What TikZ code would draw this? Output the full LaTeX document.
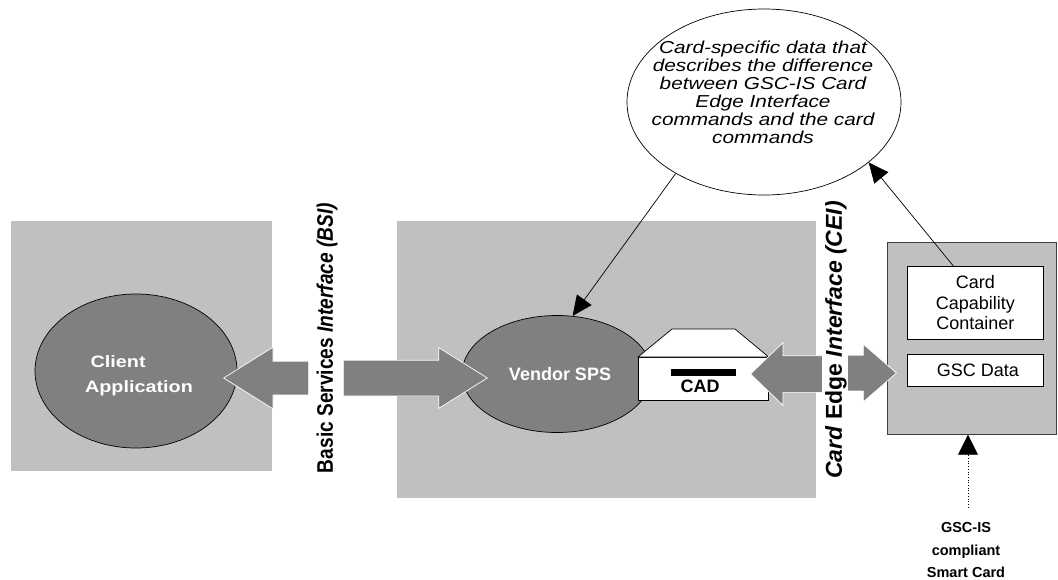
\documentclass[tikz,border=0pt]{standalone}
\usepackage{fontspec}
\setmainfont{Liberation Sans}
\newfontfamily\widefont[FakeStretch=1.2]{Liberation Sans}
\newfontfamily\narrowfont[FakeStretch=0.85]{Liberation Sans}
\usepackage{tikz}
\usetikzlibrary{arrows.meta,shapes.geometric,shapes.arrows}
\definecolor{panelgray}{HTML}{C0C0C0}
\definecolor{blobgray}{HTML}{808080}
\definecolor{rimgray}{HTML}{404040}

\begin{document}
\begin{tikzpicture}[x=1pt,y=-1pt]

	\tikzstyle panel=[fill=panelgray, inner sep=0pt, anchor=north west];
	\tikzstyle blob=[ellipse, fill=blobgray, draw=black, line width=0.7pt, inner sep=0pt];
	\tikzstyle blob text=[text=white, font=\bfseries\fontsize{18}{21}\selectfont];
	\tikzstyle block arrow=[single arrow, fill=blobgray, draw=white, line width=0.7pt, inner sep=0pt, anchor=tip];
	\tikzstyle info box=[draw=black, fill=white, line width=0.7pt, inner sep=0pt, anchor=north west, font=\fontsize{18}{20.5}\selectfont, align=center];
	\tikzstyle link lines=[line width=0.7pt, -{Triangle[length=20pt,width=18pt]}];

	\useasboundingbox (0,0) rectangle (1058,579);

	% panels
	\node[panel, minimum width=261pt, minimum height=250pt] (client panel) at (11,221) {};
	\node[panel, minimum width=419pt, minimum height=277pt] (vendor panel) at (397,221) {};
	\node[panel, draw=rimgray, line width=0.7pt, minimum width=169pt, minimum height=192pt] (card) at (887,242) {};

	% client and vendor
	\node[blob, minimum width=202pt, minimum height=154pt] (client) at (136,371) {};
	\node[blob text, align=left, font=\widefont\bfseries\fontsize{16.5}{25}\selectfont] (client text) at (139,376) {\ Client\\Application};
	\node[blob, minimum width=190pt, minimum height=117pt] (vendor) at (557,374) {};
	\node[blob text] (vendor text) at (560,374) {Vendor SPS};

	% card reader
	\node[info box, minimum width=130pt, minimum height=43pt] (cad) at (638,357) {};
	\draw[fill=white, line width=0.7pt] (cad.north west) -- (672,329) -- (735,329) -- (cad.north east) -- cycle;
	\fill (671,369) rectangle (736,376);
	\node[font=\bfseries\fontsize{18}{21}\selectfont] (cad label) at (700,386) {CAD};

	% interface arrows
	\node[block arrow, shape border rotate=180, minimum height=85pt, inner ysep=16.5pt, single arrow head extend=14pt, single arrow tip angle=64] (bsi left) at (223,378) {};
	\node[block arrow, minimum height=144pt, inner ysep=17.5pt, single arrow head extend=12.5pt, single arrow tip angle=64] (bsi right) at (488,378) {};
	\node[block arrow, shape border rotate=180, minimum height=72pt, inner ysep=18pt, single arrow head extend=13pt, single arrow tip angle=88] (cei left) at (750,374) {};
	\node[block arrow, minimum height=49pt, inner ysep=17.5pt, single arrow head extend=11pt, single arrow tip angle=82] (cei right) at (897,373) {};

	\node[rotate=90, font=\narrowfont\bfseries\fontsize{22.5}{26}\selectfont] (bsi) at (327,338) {Basic Services \textit{Interface (BSI)}};
	\node[rotate=90, font=\bfseries\fontsize{23}{27}\selectfont] (cei) at (836,340) {\textit{Card} Edge \textit{Interface (CEI)}};

	% smart card contents
	\node[info box, minimum width=136pt, minimum height=73pt] (ccc) at (907,266) {Card\\Capability\\Container};
	\node[info box, minimum width=136pt, minimum height=32pt] (gsc) at (907,354) {\ GSC Data};

	% note
	\node[ellipse, draw=black, line width=0.7pt, minimum width=274pt, minimum height=186pt, inner sep=0pt] (note) at (764,102) {};
	\node[align=center, font=\widefont\itshape\fontsize{17.3}{18}\selectfont] (note text) at (763,92) {Card-specific data that\\describes the difference\\between GSC-IS Card\\Edge Interface\\commands and the card\\commands};

	\node[align=center, font=\bfseries\fontsize{14.5}{22}\selectfont] (smart card) at (966,550) {GSC-IS\\compliant\\Smart Card};
	\coordinate (card tail) at ([xshift=2pt, yshift=12pt]smart card.north);

	\draw[link lines] (note.219) -- (vendor.75);
	\draw[link lines] ([xshift=-22pt]ccc.north) -- (note.330);
	\draw[line width=0.7pt, dotted, -{Triangle[length=20pt,width=20pt]}] (card tail) -- (card tail |- card.south);

\end{tikzpicture}
\end{document}
